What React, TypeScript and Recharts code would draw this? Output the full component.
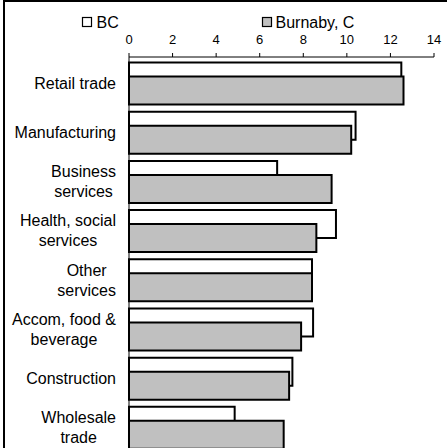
import React from 'react';
import { BarChart, Bar, XAxis, YAxis, Legend } from 'recharts';

// Industry categories (line breaks as in the original labels)
const categories = [
  'Retail trade',
  'Manufacturing',
  'Business\nservices',
  'Health, social\nservices',
  'Other\nservices',
  'Accom, food &\nbeverage',
  'Construction',
  'Wholesale\ntrade',
];

// Share of employment, %
const bcValues = [12.5, 10.4, 6.8, 9.5, 8.4, 8.45, 7.5, 4.85];
const burnabyValues = [12.6, 10.2, 9.3, 8.6, 8.4, 7.9, 7.35, 7.1];

const xTicks = [0, 2, 4, 6, 8, 10, 12, 14];

const seriesNames = ['BC', 'Burnaby, C'];

const FONT = "'Liberation Sans', Arial, sans-serif";

const data = categories.map((name, i) => ({
  name,
  bc: bcValues[i],
  burnaby: burnabyValues[i],
}));

// measure text so multi-line labels are centred on each other
let ctx: CanvasRenderingContext2D | null = null;
const measure = (text: string, size: number) => {
  if (!ctx) ctx = document.createElement('canvas').getContext('2d');
  if (!ctx) return text.length * size * 0.5;
  ctx.font = `${size}px 'Liberation Sans'`;
  return ctx.measureText(text).width;
};

const CategoryTick = (props: any) => {
  const { x, y, payload } = props;
  const lines = String(payload.value).split('\n');
  const size = 16;
  const lineHeight = 20;
  const maxW = Math.max(...lines.map((l) => measure(l, size)));
  const cx = x - maxW / 2;
  return (
    <g>
      {lines.map((line, i) => (
        <text
          key={i}
          x={cx}
          y={y + (i - (lines.length - 1) / 2) * lineHeight + 5.7}
          textAnchor="middle"
          fontSize={size}
          fontFamily={FONT}
          fill="#000"
        >
          {line}
        </text>
      ))}
    </g>
  );
};

const renderLegend = () => (
  <svg width={447} height={40}>
    <rect x={82.5} y={17.5} width={9} height={9} fill="#fff" stroke="#000" strokeWidth={1.2} />
    <text x={96.5} y={27.5} fontSize={16} fontFamily={FONT} fill="#000">
      {seriesNames[0]}
    </text>
    <rect x={262.5} y={17.5} width={9} height={9} fill="#c0c0c0" stroke="#000" strokeWidth={1.2} />
    <text x={275.5} y={27.5} fontSize={16} fontFamily={FONT} fill="#000">
      {seriesNames[1]}
    </text>
  </svg>
);

const App: React.FC = () => {
  return (
    <div
      style={{
        position: 'fixed',
        top: 0,
        left: 0,
        width: 447,
        height: 448,
        overflow: 'hidden',
        background: '#fff',
      }}
    >
      <div
        style={{
          position: 'absolute',
          left: 3,
          top: 0,
          width: 460,
          height: 470,
          borderTop: '2px solid #000',
          borderLeft: '2px solid #000',
          boxSizing: 'border-box',
        }}
      />
      <div style={{ position: 'absolute', left: 0, top: 0 }}>
        <BarChart
          width={447}
          height={462}
          data={data}
          layout="vertical"
          barSize={28}
          barGap={-14}
          margin={{ top: 0, right: 13, left: 0, bottom: 10 }}
        >
          <Legend
            content={renderLegend}
            layout="horizontal"
            verticalAlign="middle"
            wrapperStyle={{ top: 0, left: 0, width: 447, height: 40 }}
          />
          <XAxis
            type="number"
            orientation="top"
            domain={[0, 14]}
            ticks={xTicks}
            height={57}
            tickSize={4}
            tickMargin={9}
            stroke="#000"
            tick={{ fontSize: 13, fontFamily: FONT, fill: '#000' }}
          />
          <YAxis
            type="category"
            dataKey="name"
            width={129}
            tickLine={false}
            tickSize={0}
            tickMargin={13}
            stroke="#000"
            padding={{ top: 1.5, bottom: 0 }}
            tick={<CategoryTick />}
            interval={0}
          />
          <Bar
            dataKey="bc"
            name={seriesNames[0]}
            fill="#ffffff"
            stroke="#000"
            strokeWidth={2}
            isAnimationActive={false}
          />
          <Bar
            dataKey="burnaby"
            name={seriesNames[1]}
            fill="#c0c0c0"
            stroke="#000"
            strokeWidth={2}
            isAnimationActive={false}
          />
        </BarChart>
      </div>
    </div>
  );
};

export default App;
